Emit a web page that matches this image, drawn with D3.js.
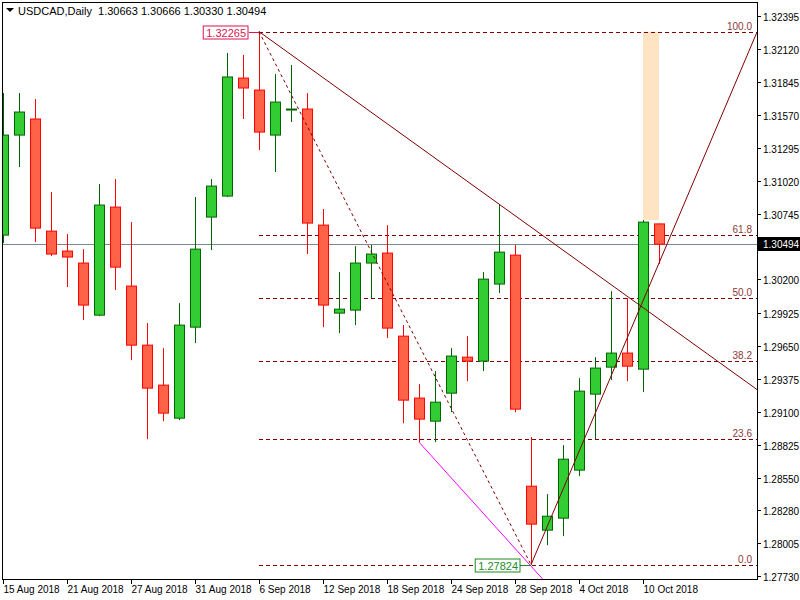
<!DOCTYPE html>
<html><head><meta charset="utf-8">
<script src="https://cdn.jsdelivr.net/npm/d3@7"></script>
<style>body{margin:0;background:#fff}svg{display:block;font-family:"Liberation Sans",Arial,sans-serif}</style>
</head><body><svg id="c" width="800" height="600"></svg>
<script>
// ---- data ----
const opens  = [1.30570,1.31403,1.31537,1.30603,1.30437,1.30337,1.29903,1.30803,1.30145,1.29653,1.29320,1.29045,1.29803,1.30720,1.30895,1.31878,1.31778,1.31403,1.31612,1.31620,1.30653,1.29920,1.29945,1.30337,1.30420,1.29728,1.29212,1.29020,1.29253,1.29553,1.29520,1.30162,1.30403,1.28478,1.28112,1.28212,1.28612,1.29245,1.29470,1.29587,1.29453,1.30663];
const highs  = [1.31753,1.31753,1.31703,1.30928,1.30578,1.30453,1.30995,1.31037,1.30678,1.29837,1.29628,1.30003,1.30887,1.31037,1.32087,1.32070,1.32265,1.31912,1.31987,1.31753,1.30787,1.30262,1.30478,1.30487,1.30653,1.29820,1.29328,1.29437,1.29628,1.29728,1.30262,1.30828,1.30487,1.28887,1.28412,1.28820,1.29378,1.29553,1.30103,1.30045,1.30695,1.30666];
const lows   = [1.30503,1.31137,1.30512,1.30395,1.30137,1.29862,1.29895,1.30112,1.29528,1.28870,1.29020,1.29028,1.29670,1.30445,1.30887,1.31537,1.31278,1.31095,1.31512,1.30412,1.29803,1.29753,1.29820,1.30045,1.29712,1.29003,1.28845,1.28845,1.29095,1.29353,1.29437,1.30087,1.29095,1.27824,1.27987,1.28062,1.28562,1.28870,1.29362,1.29353,1.29262,1.30330];
const closes = [1.31403,1.31595,1.30628,1.30412,1.30387,1.29987,1.30820,1.30303,1.29653,1.29295,1.29087,1.29820,1.30453,1.30978,1.31887,1.31795,1.31428,1.31678,1.31620,1.30670,1.29987,1.29953,1.30337,1.30412,1.29795,1.29195,1.29037,1.29178,1.29562,1.29520,1.30203,1.30428,1.29120,1.28162,1.28228,1.28703,1.29270,1.29462,1.29587,1.29478,1.30678,1.30494];
const dateLabels = ["15 Aug 2018","21 Aug 2018","27 Aug 2018","31 Aug 2018","6 Sep 2018","12 Sep 2018","18 Sep 2018","24 Sep 2018","28 Sep 2018","4 Oct 2018","10 Oct 2018"];
const dateLabelIdx = [0,4,8,12,16,20,24,28,32,36,40];
const priceTicks = [1.32395,1.32120,1.31845,1.31570,1.31295,1.31020,1.30745,1.30200,1.29925,1.29650,1.29375,1.29100,1.28825,1.28550,1.28280,1.28005,1.27730];
const fibLevels = [0,23.6,38.2,50,61.8,100];
const swingHigh = {i:16, p:1.32265}, swingLow = {i:33, p:1.27824};
const lastPrice = 1.30494;
const title = "USDCAD,Daily  1.30663 1.30666 1.30330 1.30494";

// ---- layout ----
const svg = d3.select("#c");
const L=2, R=757, T=2, B=579;
const x = d3.scaleLinear().domain([0,41]).range([3,659]);
const y = d3.scaleLinear().domain([1.27730,1.32395]).range([576,16]);
const dark="#800000";

svg.append("defs").append("clipPath").attr("id","pc").append("rect")
  .attr("x",L).attr("y",T).attr("width",R-L).attr("height",B-T);
const g = svg.append("g").attr("clip-path","url(#pc)");

g.append("rect").attr("x",x(40)).attr("width",x(41)-x(40))
  .attr("y",y(1.32265)).attr("height",y(1.30695)-y(1.32265)).attr("fill","#ffe4c4");

const range = swingHigh.p - swingLow.p;
fibLevels.forEach(f=>{
  const p = swingLow.p + range*f/100, yy=Math.round(y(p))+0.5;
  g.append("line").attr("x1",x(swingHigh.i)).attr("x2",R).attr("y1",yy).attr("y2",yy)
    .attr("stroke",dark).attr("stroke-dasharray","4,3");
  g.append("text").attr("x",752).attr("y",yy-3).attr("text-anchor","end")
    .attr("font-size",10).attr("fill","#8b3a3a").text(f.toFixed(1));
});

g.append("line").attr("x1",L).attr("x2",R).attr("y1",Math.round(y(lastPrice))+0.5).attr("y2",Math.round(y(lastPrice))+0.5)
  .attr("stroke","#778899");

const bw=10;
d3.range(opens.length).forEach(i=>{
  const up = closes[i]>=opens[i];
  const cx = Math.round(x(i))+0.5;
  const stroke = up?"#006400":"#ff0000", fill = up?"#32cd32":"#ff6347";
  g.append("line").attr("x1",cx).attr("x2",cx).attr("y1",y(highs[i])).attr("y2",y(lows[i])).attr("stroke",stroke).attr("stroke-width",1);
  const top=y(Math.max(opens[i],closes[i])), bot=y(Math.min(opens[i],closes[i]));
  g.append("rect").attr("x",cx-bw/2).attr("width",bw).attr("y",top).attr("height",Math.max(1,bot-top))
    .attr("fill",fill).attr("stroke",stroke).attr("stroke-width",1);
});

const line=(i1,p1,i2,p2,col,dash)=>g.append("line").attr("x1",x(i1)).attr("y1",y(p1)).attr("x2",x(i2)).attr("y2",y(p2))
  .attr("stroke",col).attr("stroke-width",1).attr("stroke-dasharray",dash||null);
line(swingHigh.i,swingHigh.p,swingLow.i,swingLow.p,dark,"3,3");
{const i2=31,p2=1.30828, s=(p2-swingHigh.p)/(i2-swingHigh.i), iE=47.2;
 line(swingHigh.i,swingHigh.p,iE,swingHigh.p+s*(iE-swingHigh.i),dark);}
line(swingLow.i,swingLow.p,47.1,1.32253,dark);
{const s=(1.27812-1.28845)/7; line(26,1.28845,36,1.28845+s*10,"#ff00ff");}

function priceBox(i,p,txt,col,xr){
  const yy=Math.round(y(p))+0.5;
  const gg=svg.append("g");
  const r=gg.append("rect");
  const t=gg.append("text").attr("x",xr-3).attr("y",yy+4).attr("text-anchor","end").attr("font-size",11).attr("fill",col).text(txt);
  const bb=t.node().getBBox();
  r.attr("x",bb.x-3).attr("y",yy-6.5).attr("width",bb.width+5).attr("height",13)
    .attr("fill","#fff").attr("stroke",col);
  gg.append("line").attr("x1",xr).attr("x2",x(i)).attr("y1",yy).attr("y2",yy).attr("stroke",col);
}
priceBox(16,swingHigh.p,"1.32265","#dc1450",249);
priceBox(33,swingLow.p,"1.27824","#1e8c1e",521);

svg.append("rect").attr("x",L+0.5).attr("y",T+0.5).attr("width",R-L).attr("height",B-T).attr("fill","none").attr("stroke","#000");

const ra=svg.append("g").attr("font-size",10);
priceTicks.forEach(p=>{
  const yy=Math.round(y(p))+0.5;
  ra.append("line").attr("x1",R).attr("x2",R+4).attr("y1",yy).attr("y2",yy).attr("stroke","#000");
  ra.append("text").attr("x",763).attr("y",yy+4).text(p.toFixed(5));
});
{const yy=Math.round(y(lastPrice));
 svg.append("rect").attr("x",R).attr("y",yy-7).attr("width",43).attr("height",14).attr("fill","#000");
 svg.append("text").attr("x",763).attr("y",yy+4).attr("font-size",10).attr("fill","#fff").text(lastPrice.toFixed(5));}

const ba=svg.append("g").attr("font-size",10);
dateLabelIdx.forEach((i,k)=>{
  const xx=Math.round(x(i))+0.5;
  ba.append("line").attr("x1",xx).attr("x2",xx).attr("y1",B).attr("y2",B+5).attr("stroke","#000");
  ba.append("text").attr("x",xx).attr("y",593).text(dateLabels[k]);
});

svg.append("path").attr("d","M6,8 L14,8 L10,12 Z").attr("fill","#000");
svg.append("text").attr("x",18).attr("y",15).attr("font-size",11).attr("xml:space","preserve").style("white-space","pre").text(title);
</script></body></html>
